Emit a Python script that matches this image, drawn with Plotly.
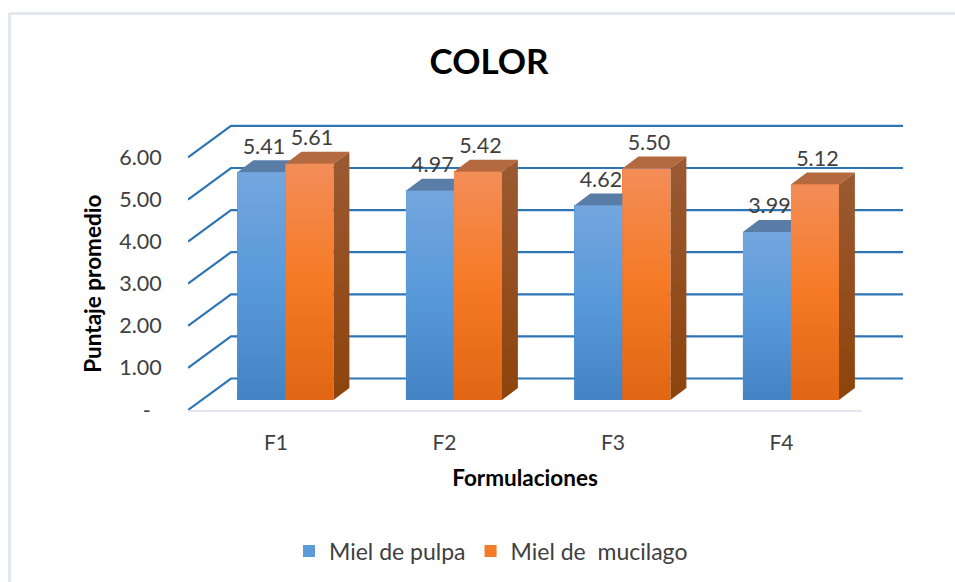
import plotly.graph_objects as go

categories = ["F1", "F2", "F3", "F4"]
miel_pulpa = [5.41, 4.97, 4.62, 3.99]
miel_mucilago = [5.61, 5.42, 5.50, 5.12]
y_ticks = [0, 1, 2, 3, 4, 5, 6]
y_tick_labels = ["-\u00a0\u00a0", "1.00", "2.00", "3.00", "4.00", "5.00", "6.00"]

FONT = "Lato, Carlito, Calibri, sans-serif"
TXT = "#404040"
GRID = "#2E75B6"
W, H = 955, 582
L, R, T, B = 188, 862, 157.4, 410   # front plane of the chart
PR, PT = 903, 110                   # outer plot box, includes the back wall
ux = (R - L) / 4           # px per category
uy = (B - T) / 6           # px per value unit
base = 10 / uy             # bars stand a little behind the front plane
bar_w = 48 / ux
shift = 0.078              # group offset from the category centre
dx, dy = 16 / ux, 12 / uy  # bar depth
wx0, wx1, wy = -0.5 + 43 / ux, 3.5 + 41 / ux, 31.5 / uy  # back wall

series = [
    dict(name="Miel de pulpa", vals=miel_pulpa, off=shift - bar_w / 2, color="#5B9BD8",
         front=["#74A6DE", "#5899DA", "#4483C3"], top="#5A7DA8", side=["#5A7DA8", "#3F6A9A"]),
    dict(name="Miel de\u00a0\u00a0mucilago", vals=miel_mucilago, off=shift + bar_w / 2, color="#F47B28",
         front=["#F38D58", "#F67A25", "#E16613"], top="#B5693F", side=["#9B5A33", "#8D430B"]),
]

fig = go.Figure()

# real bars (legend and values) on the front-plane axes
for s in series:
    fig.add_trace(go.Bar(x=[i + s["off"] for i in range(4)], y=s["vals"], base=base, width=bar_w,
                         name=s["name"], marker=dict(color=s["color"], line=dict(width=0)),
                         cliponaxis=False))

# back wall grid: front-left -> back-left -> back-right for every tick
gx, gy = [], []
for v in y_ticks:
    gx += [-0.5, wx0, wx1, None]
    gy += [v, v + wy, v + wy, None]
fig.add_trace(go.Scatter(x=gx, y=gy, xaxis="x2", yaxis="y2", mode="lines",
                         line=dict(color=GRID, width=2.2),
                         hoverinfo="skip", showlegend=False, cliponaxis=False))


def vgrad(colors):
    n = len(colors) - 1
    return dict(type="vertical", colorscale=[[k / n, c] for k, c in enumerate(colors)])


def poly(xs, ys, fill=None, grad=None):
    kw = dict(x=xs + xs[:1], y=ys + ys[:1], xaxis="x2", yaxis="y2", mode="lines",
              line=dict(width=0), fill="toself",
              hoverinfo="skip", showlegend=False, cliponaxis=False)
    if grad:
        kw["fillgradient"] = vgrad(grad)
    else:
        kw["fillcolor"] = fill
    fig.add_trace(go.Scatter(**kw))


# 3D faces
for i in range(4):
    for s in series:
        x0 = i + s["off"] - bar_w / 2
        x1 = x0 + bar_w
        top = base + s["vals"][i]
        poly([x0, x0 + dx, x1 + dx, x1], [top, top + dy, top + dy, top], fill=s["top"])
        poly([x1, x1 + dx, x1 + dx, x1], [base, base + dy, top + dy, top], grad=s["side"][::-1])
        poly([x0, x1, x1, x0], [base, base, top, top], grad=s["front"][::-1])

# value labels
for s in series:
    fig.add_trace(go.Scatter(
        x=[i + s["off"] + 2.5 / ux for i in range(4)],
        y=[base + v + 24 / uy for v in s["vals"]],
        text=[f"{v:.2f}" for v in s["vals"]],
        xaxis="x2", yaxis="y2",
        mode="text", textposition="middle center",
        textfont=dict(family=FONT, size=21.5, color=TXT),
        hoverinfo="skip", showlegend=False, cliponaxis=False))

px_w, px_h = PR - L, B - PT
fig.update_layout(
    width=W, height=H,
    margin=dict(l=L, r=W - PR, t=PT, b=H - B, pad=0),
    paper_bgcolor="white", plot_bgcolor="rgba(0,0,0,0)",
    barmode="overlay", bargap=0,
    font=dict(family=FONT, color=TXT),
    title=dict(text="<b>COLOR</b>", x=489 / W, xref="container", xanchor="center",
               y=1 - 62 / H, yref="container", yanchor="middle",
               font=dict(family=FONT, size=35, color="#000000")),
    xaxis=dict(domain=[0, (R - L) / px_w], range=[-0.5, 3.5], tickmode="array",
               tickvals=[i + 0.022 for i in range(4)],
               ticktext=categories, showgrid=False, zeroline=False, showline=True,
               linecolor="#E3E6EF", linewidth=2, ticks="outside", ticklen=13,
               tickcolor="rgba(0,0,0,0)", tickfont=dict(family=FONT, size=21, color=TXT),
               title=dict(text="<b>Formulaciones</b>", standoff=17,
                          font=dict(family=FONT, size=22.5, color="#000000"))),
    yaxis=dict(domain=[0, (B - T) / px_h], range=[0, 6], tickmode="array",
               tickvals=y_ticks, ticktext=y_tick_labels,
               showgrid=False, zeroline=False, showline=False, ticks="outside", ticklen=21,
               tickcolor="rgba(0,0,0,0)", tickfont=dict(family=FONT, size=21.5, color=TXT),
               title=dict(text="<b>Puntaje promedio</b>", standoff=11,
                          font=dict(family=FONT, size=22.5, color="#000000"))),
    xaxis2=dict(domain=[0, 1], range=[-0.5, -0.5 + px_w / ux], visible=False, anchor="y2"),
    yaxis2=dict(domain=[0, 1], range=[0, px_h / uy], visible=False, anchor="x2"),
    legend=dict(orientation="h", x=289 / W, xref="container", y=1 - 551 / H, yref="container",
                yanchor="middle", xanchor="left", font=dict(family=FONT, size=23, color=TXT),
                itemclick=False, itemdoubleclick=False),
    shapes=[
        dict(type="line", xref="paper", yref="paper", layer="below",
             x0=(9 - L) / px_w, x1=(W - L) / px_w,
             y0=(B - 13.5) / px_h, y1=(B - 13.5) / px_h, line=dict(color="#DEE3EC", width=2.5)),
        dict(type="line", xref="paper", yref="paper", layer="below",
             x0=(9.5 - L) / px_w, x1=(9.5 - L) / px_w,
             y0=(B - 13) / px_h, y1=(B - H) / px_h, line=dict(color="#DEE3EC", width=2.5)),
    ],
)

fig.write_html("out.html", config=dict(displayModeBar=False),
               post_script="document.body.style.margin='0';document.documentElement.style.overflow='hidden';")
